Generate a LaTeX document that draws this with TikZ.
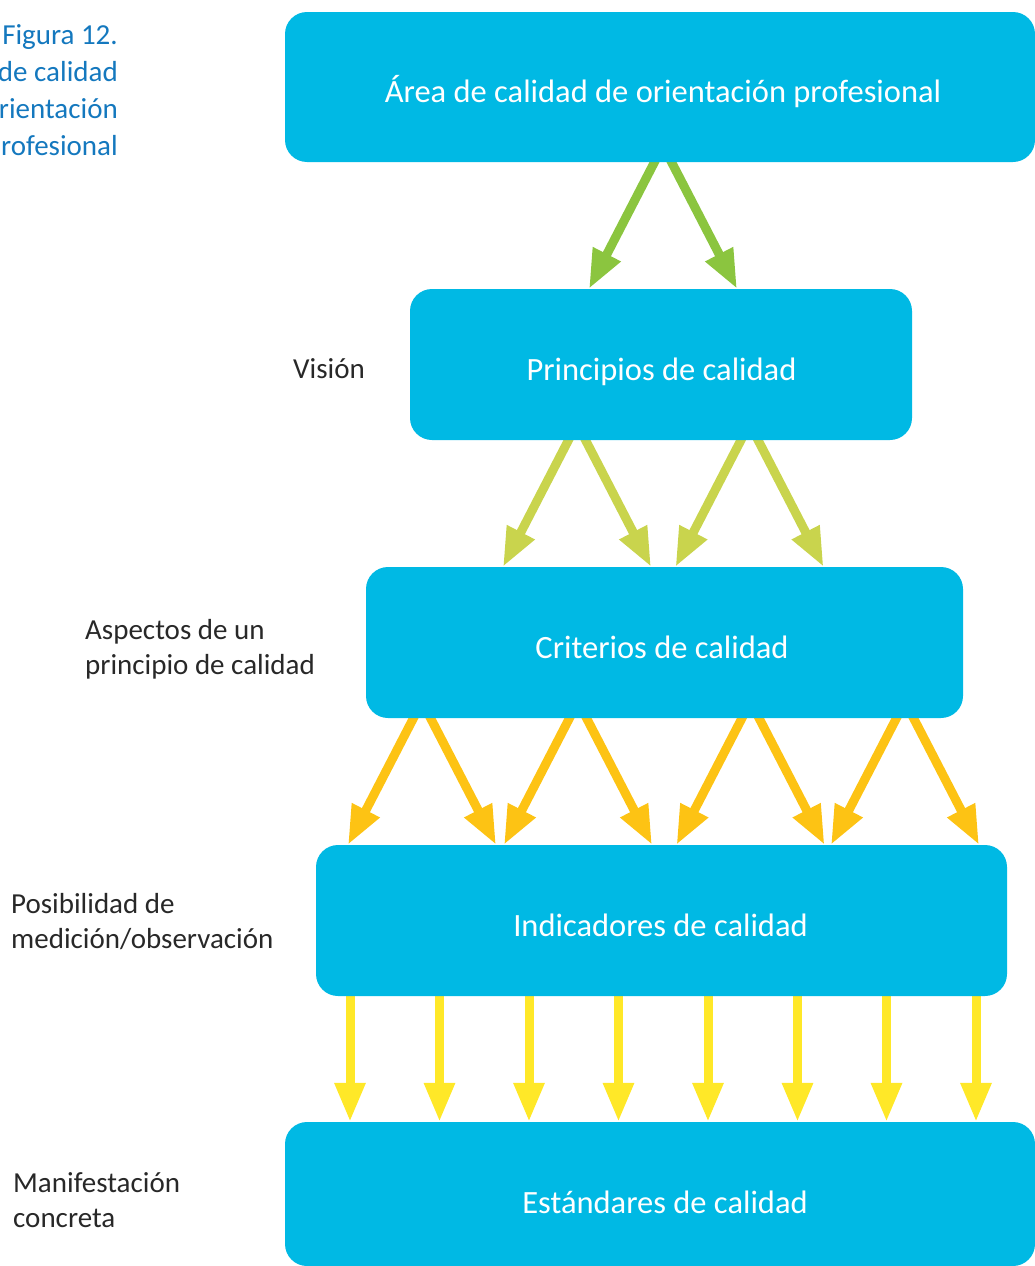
\documentclass[tikz,border=0pt]{standalone}
\usepackage{fontspec}
\setmainfont{Carlito}
\usetikzlibrary{arrows.meta,calc,backgrounds}
\definecolor{boxcyan}{RGB}{0,185,228}
\definecolor{arrgreen}{RGB}{139,197,63}
\definecolor{arrlime}{RGB}{201,212,77}
\definecolor{arrorange}{RGB}{253,195,20}
\definecolor{arryellow}{RGB}{255,232,40}
\definecolor{capblue}{RGB}{20,120,190}
\definecolor{labgray}{RGB}{40,40,40}
\tikzset{
  qbox/.style={fill=boxcyan, draw=none, rounded corners=22pt, inner sep=0pt},
  qtext/.style={text=white, font=\fontsize{32.5}{39}\selectfont, anchor=base, inner sep=0pt},
  sidelab/.style={text=labgray, font=\fontsize{29}{35}\selectfont, anchor=base west, inner sep=0pt},
  caplab/.style={text=capblue, font=\fontsize{29}{37}\selectfont, anchor=base east, inner sep=0pt},
  flow/.style={line width=9pt, -{Triangle[length=39pt,width=29pt]}},
}
\begin{document}
\begin{tikzpicture}[x=1pt,y=-1pt]
\useasboundingbox (0,0) rectangle (1035,1266);

% boxes
\node[qbox, minimum width=750pt, minimum height=150pt] (area) at (660,87) {};
\node[qbox, minimum width=502pt, minimum height=151pt] (prin) at (661,364.5) {};
\node[qbox, minimum width=597pt, minimum height=151pt] (crit) at (664.5,642.5) {};
\node[qbox, minimum width=691pt, minimum height=151pt] (indi) at (661.5,920.5) {};
\node[qbox, minimum width=750pt, minimum height=144pt] (esta) at (660,1194) {};

% box texts
\node[qtext] (areaT) at (663,102) {Área de calidad de orientación profesional};
\node[qtext] (prinT) at (661.5,380) {Principios de calidad};
\node[qtext] (critT) at (662,658) {Criterios de calidad};
\node[qtext] (indiT) at (660.5,936) {Indicadores de calidad};
\node[qtext] (estaT) at (665,1213) {Estándares de calidad};

% side labels
\node[sidelab] (vis) at (293,378) {Visión};
\node[sidelab] (asp) at (85,639) {\begin{tabular}[t]{@{}l@{}}Aspectos de un\\principio de calidad\end{tabular}};
\node[sidelab] (pos) at (11,913) {\begin{tabular}[t]{@{}l@{}}Posibilidad de\\medición/observación\end{tabular}};
\node[sidelab] (man) at (13,1192) {\begin{tabular}[t]{@{}l@{}}Manifestación\\concreta\end{tabular}};

% caption (cut by the left edge)
\node[caplab] (cap) at (118,44) {\begin{tabular}[t]{@{}r@{}}Figura 12.\\de calidad\\rientación\\rofesional\end{tabular}};

% arrows
\begin{scope}[on background layer]
  % green: area -> principios
  \foreach \xc in {663} {
    \draw[flow, arrgreen] ($(area.south)+(\xc-660-6,-5)$) -- ($(prin.north)+(\xc-661-74,0)$);
    \draw[flow, arrgreen] ($(area.south)+(\xc-660+6,-5)$) -- ($(prin.north)+(\xc-661+74,0)$);
  }
  % lime: principios -> criterios
  \foreach \xc in {577,749.5} {
    \draw[flow, arrlime] ($(prin.south)+(\xc-661-6,-5)$) -- ($(crit.north)+(\xc-664.5-74,0)$);
    \draw[flow, arrlime] ($(prin.south)+(\xc-661+6,-5)$) -- ($(crit.north)+(\xc-664.5+74,0)$);
  }
  % orange: criterios -> indicadores
  \foreach \xc in {422,578,750.5,905} {
    \draw[flow, arrorange] ($(crit.south)+(\xc-664.5-6,-5)$) -- ($(indi.north)+(\xc-661.5-74,0)$);
    \draw[flow, arrorange] ($(crit.south)+(\xc-664.5+6,-5)$) -- ($(indi.north)+(\xc-661.5+74,0)$);
  }
  % yellow: indicadores -> estandares
  \foreach \xc in {350,439.5,529,618.5,708,797.5,886.5,976} {
    \draw[flow, arryellow] ($(indi.south)+(\xc-661.5,-5)$) -- ($(esta.north)+(\xc-660,0)$);
  }
\end{scope}
\end{tikzpicture}
\end{document}
